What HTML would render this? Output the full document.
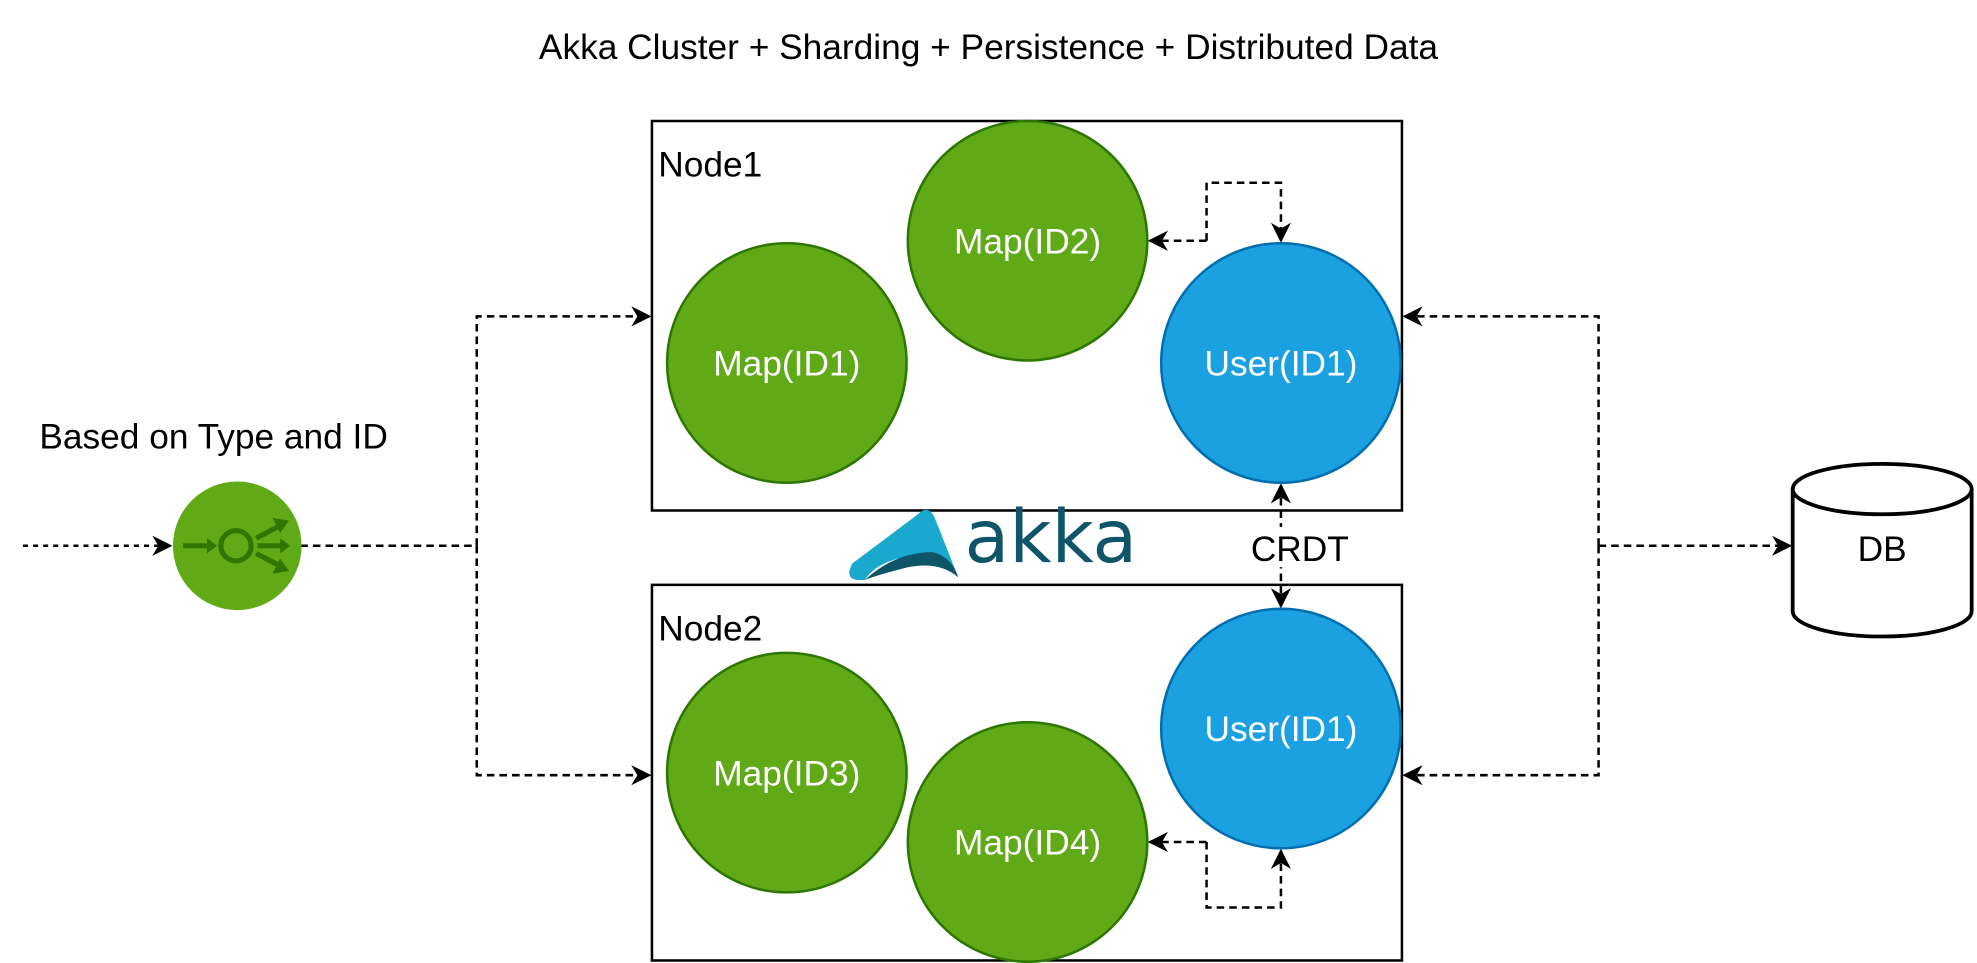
<!DOCTYPE html>
<html><head><meta charset="utf-8"><style>html,body{margin:0;padding:0;background:#fff}svg{display:block}</style></head>
<body>
<svg width="1977" height="963" viewBox="0 0 1568 764" xmlns="http://www.w3.org/2000/svg" font-family="Liberation Sans, Arial, sans-serif">
<defs>
<marker id="a" viewBox="0 0 10 10" refX="9" refY="5" markerWidth="16" markerHeight="16" orient="auto-start-reverse" markerUnits="userSpaceOnUse">
<path d="M0,0 L10,5 L0,10 L3,5 Z" fill="#000"/></marker>
</defs>
<text x="784" y="47" font-size="28" text-anchor="middle">Akka Cluster + Sharding + Persistence + Distributed Data</text>

<rect x="517" y="96" width="595" height="309" fill="#fff" stroke="#000" stroke-width="2"/>
<rect x="517" y="464" width="595" height="298" fill="#fff" stroke="#000" stroke-width="2"/>
<text x="522" y="140" font-size="28">Node1</text>
<text x="522" y="508" font-size="28">Node2</text>

<g stroke-width="2" fill="none" stroke="#000" stroke-dasharray="6,4">
<path d="M18,433 H135" marker-end="url(#a)" stroke-dasharray="4,4"/>
<path d="M238,433 H378"/>
<path d="M378,433 V251 H515" marker-end="url(#a)"/>
<path d="M378,433 V615 H515" marker-end="url(#a)"/>
<path d="M1268,433 V251 H1114" marker-end="url(#a)"/>
<path d="M1268,433 V615 H1114" marker-end="url(#a)"/>
<path d="M1268,433 H1420" marker-end="url(#a)"/>
<path d="M1016,385 V481" marker-start="url(#a)" marker-end="url(#a)"/>
<path d="M957,191 H912" marker-end="url(#a)"/>
<path d="M957,191 V145 H1016 V191" marker-end="url(#a)"/>
<path d="M957,668 H912" marker-end="url(#a)"/>
<path d="M957,668 V720 H1016 V675" marker-end="url(#a)"/>
</g>
<rect x="992" y="418" width="78" height="32" fill="#fff"/>
<text x="1031" y="445" font-size="28" text-anchor="middle">CRDT</text>

<g stroke-width="2">
<circle cx="815" cy="191" r="95" fill="#60a917" stroke="#2d7600"/>
<circle cx="624" cy="288" r="95" fill="#60a917" stroke="#2d7600"/>
<circle cx="1016" cy="288" r="95" fill="#1ba1e2" stroke="#006eaf"/>
<circle cx="624" cy="613" r="95" fill="#60a917" stroke="#2d7600"/>
<circle cx="815" cy="668" r="95" fill="#60a917" stroke="#2d7600"/>
<circle cx="1016" cy="578" r="95" fill="#1ba1e2" stroke="#006eaf"/>
</g>
<g fill="#fff" font-size="28" text-anchor="middle">
<text x="815" y="201">Map(ID2)</text>
<text x="624" y="298">Map(ID1)</text>
<text x="1016" y="298">User(ID1)</text>
<text x="624" y="623">Map(ID3)</text>
<text x="815" y="678">Map(ID4)</text>
<text x="1016" y="588">User(ID1)</text>
</g>

<text x="31" y="356" font-size="28">Based on Type and ID</text>
<circle cx="188" cy="433" r="51" fill="#60a917"/>
<g stroke="#2d7600" stroke-width="4" fill="none">
<circle cx="187" cy="433" r="12"/>
<path d="M145,433 H166"/>
<path d="M203,427 L222,417"/><path d="M204,433 H224"/><path d="M203,439 L222,449"/>
</g>
<g fill="#2d7600">
<path d="M164,427 L172,433 L164,439Z"/>
<path d="M222,427 L230,433 L222,439Z"/>
<path d="M216,411 L229,413 L222,423Z"/>
<path d="M216,455 L229,453 L222,443Z"/>
</g>

<path d="M1422,388 V485 A71,20 0 0 0 1564,485 V388" fill="#fff" stroke="#000" stroke-width="3"/>
<ellipse cx="1493" cy="388" rx="71" ry="20" fill="#fff" stroke="#000" stroke-width="3"/>
<text x="1493" y="445" font-size="28" text-anchor="middle">DB</text>

<path d="M676,447 L728,408 Q736,400 741,410 L760,458 Q745,440 718,442 Q695,446 686,460 Q668,462 676,447Z" fill="#19a9cf"/>
<path d="M686,460 Q710,438 740,438 Q755,442 760,458 Q745,445 720,450 Q700,455 686,460Z" fill="#0e5568"/>
<text x="765" y="446" font-size="58" fill="#0e5568" font-family="DejaVu Sans, sans-serif" letter-spacing="-1" textLength="136">akka</text>
</svg>
</body></html>
